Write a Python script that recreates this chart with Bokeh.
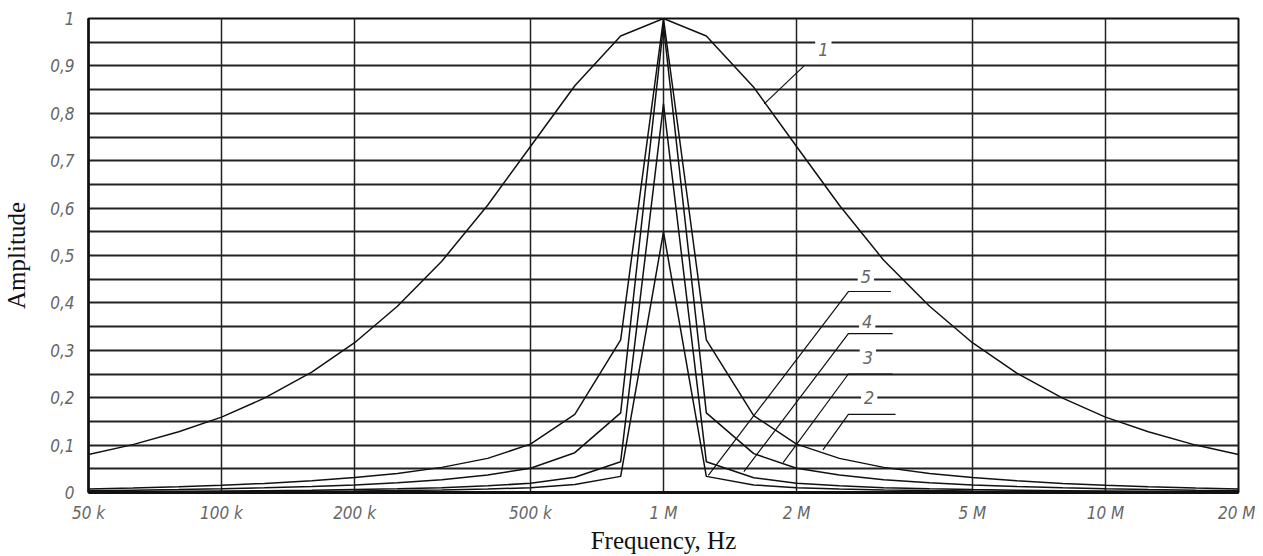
from bokeh.plotting import figure
from bokeh.models import FixedTicker, Label, Range1d
from bokeh.embed import file_html
from bokeh.resources import INLINE

# ---- data ----
freq = [50e3, 63e3, 80e3, 100e3, 125e3, 160e3, 200e3, 250e3, 315e3, 400e3, 500e3,
        630e3, 800e3, 1e6, 1.25e6, 1.6e6, 2e6, 2.5e6, 3.15e6, 4e6, 5e6, 6.3e6,
        8e6, 10e6, 12.5e6, 16e6, 20e6]
curve1 = [0.080, 0.101, 0.128, 0.159, 0.199, 0.254, 0.316, 0.393, 0.488, 0.606, 0.730,
          0.858, 0.963, 1.0, 0.963, 0.855, 0.730, 0.606, 0.490, 0.393, 0.316, 0.252,
          0.199, 0.159, 0.128, 0.100, 0.080]
curve2 = [0.0076, 0.0096, 0.0122, 0.0153, 0.0192, 0.025, 0.0315, 0.040, 0.053, 0.072, 0.102,
          0.165, 0.322, 1.0, 0.322, 0.162, 0.102, 0.072, 0.053, 0.040, 0.0315, 0.025,
          0.019, 0.0153, 0.0122, 0.0096, 0.0076]
curve3 = [0.0039, 0.0049, 0.0062, 0.0078, 0.0098, 0.0126, 0.016, 0.0205, 0.027, 0.037, 0.051,
          0.084, 0.168, 0.985, 0.168, 0.082, 0.051, 0.037, 0.027, 0.0205, 0.016, 0.0126,
          0.0098, 0.0078, 0.0062, 0.0049, 0.0039]
curve4 = [0.0015, 0.0019, 0.0024, 0.003, 0.0037, 0.0048, 0.0061, 0.0078, 0.0102, 0.014, 0.0195,
          0.032, 0.065, 0.82, 0.065, 0.031, 0.0195, 0.014, 0.0102, 0.0078, 0.0061, 0.0048,
          0.0037, 0.003, 0.0024, 0.0019, 0.0015]
curve5 = [0.0008, 0.001, 0.0012, 0.0015, 0.0019, 0.0025, 0.0032, 0.0041, 0.0053, 0.0073, 0.0102,
          0.017, 0.034, 0.55, 0.034, 0.016, 0.0102, 0.0073, 0.0053, 0.0041, 0.0032, 0.0025,
          0.0019, 0.0015, 0.0012, 0.001, 0.0008]
curves = [curve1, curve2, curve3, curve4, curve5]

x_ticks = [50e3, 100e3, 200e3, 500e3, 1e6, 2e6, 5e6, 10e6, 20e6]
x_tick_labels = ["50 k", "100 k", "200 k", "500 k", "1 M", "2 M", "5 M", "10 M", "20 M"]
y_ticks = [0, 0.1, 0.2, 0.3, 0.4, 0.5, 0.6, 0.7, 0.8, 0.9, 1]
y_tick_labels = ["0", "0,1", "0,2", "0,3", "0,4", "0,5", "0,6", "0,7", "0,8", "0,9", "1"]
y_grid = [0, 0.05, 0.1, 0.15, 0.2, 0.25, 0.3, 0.35, 0.4, 0.45, 0.5, 0.55, 0.6, 0.65,
          0.7, 0.75, 0.8, 0.85, 0.9, 0.95, 1]

# curve labels: (text, label x, label y, leader points)
curve_labels = [
    ("1", 2.3e6, 0.935, [(1.69e6, 0.82), (2.08e6, 0.9)]),
    ("5", 2.87e6, 0.455, [(1.263e6, 0.036), (2.62e6, 0.424), (3.27e6, 0.424)]),
    ("4", 2.89e6, 0.36, [(1.52e6, 0.044), (2.62e6, 0.335), (3.3e6, 0.335)]),
    ("3", 2.9e6, 0.285, [(1.865e6, 0.063), (2.62e6, 0.25), (3.3e6, 0.25)]),
    ("2", 2.92e6, 0.20, [(2.295e6, 0.09), (2.62e6, 0.165), (3.35e6, 0.165)]),
]

TFONT = "DejaVu Sans Condensed"
SERIF = "Liberation Serif"
GREY = "#666666"

p = figure(width=1255, height=556, x_axis_type="log",
           x_range=Range1d(50e3, 20e6), y_range=Range1d(0, 1),
           output_backend="svg", toolbar_location=None,
           min_border_left=86, min_border_right=17, min_border_top=18, min_border_bottom=63)
p.background_fill_color = "white"
p.border_fill_color = "white"
p.outline_line_color = "#111111"
p.outline_line_width = 2

# grids
p.xgrid.ticker = FixedTicker(ticks=x_ticks)
p.ygrid.ticker = FixedTicker(ticks=y_grid)
p.xgrid.grid_line_color = "#222222"
p.xgrid.grid_line_width = 1.5
p.ygrid.grid_line_color = "#222222"
p.ygrid.grid_line_width = 2

# axes
p.xaxis.ticker = FixedTicker(ticks=x_ticks)
p.xaxis.major_label_overrides = dict(zip(x_ticks, x_tick_labels))
p.yaxis.ticker = FixedTicker(ticks=y_ticks)
p.yaxis.major_label_overrides = dict(zip(y_ticks, y_tick_labels))
for ax in (p.xaxis, p.yaxis):
    ax.major_tick_line_color = None
    ax.minor_tick_line_color = None
    ax.axis_line_color = "#111111"
    ax.major_label_text_font = TFONT
    ax.major_label_text_font_style = "italic"
    ax.major_label_text_font_size = "17px"
    ax.major_label_text_color = GREY
    ax.axis_label_text_font = SERIF
    ax.axis_label_text_font_style = "normal"
    ax.axis_label_text_color = "#111111"
p.xaxis.axis_line_width = 3
p.yaxis.axis_line_width = 2.5
p.xaxis.major_label_standoff = 4
p.yaxis.major_label_standoff = 8
p.xaxis.axis_label = "Frequency, Hz"
p.xaxis.axis_label_text_font_size = "25px"
p.xaxis.axis_label_standoff = 1
p.yaxis.axis_label = "Amplitude"
p.yaxis.axis_label_text_font_size = "25px"
p.yaxis.axis_label_standoff = 17

# curves
for c in curves:
    p.line(freq, c, line_color="#111111", line_width=1.5)

# leaders and curve numbers
for txt, lx, ly, pts in curve_labels:
    p.line([q[0] for q in pts], [q[1] for q in pts], line_color="#111111", line_width=1.2)
for txt, lx, ly, pts in curve_labels:
    p.add_layout(Label(x=lx, y=ly, text=txt, text_font=TFONT, text_font_style="italic",
                       text_font_size="18px", text_color=GREY, text_align="center",
                       text_baseline="middle", background_fill_color="white",
                       padding=3))

open("out.html", "w").write(file_html(p, INLINE))
